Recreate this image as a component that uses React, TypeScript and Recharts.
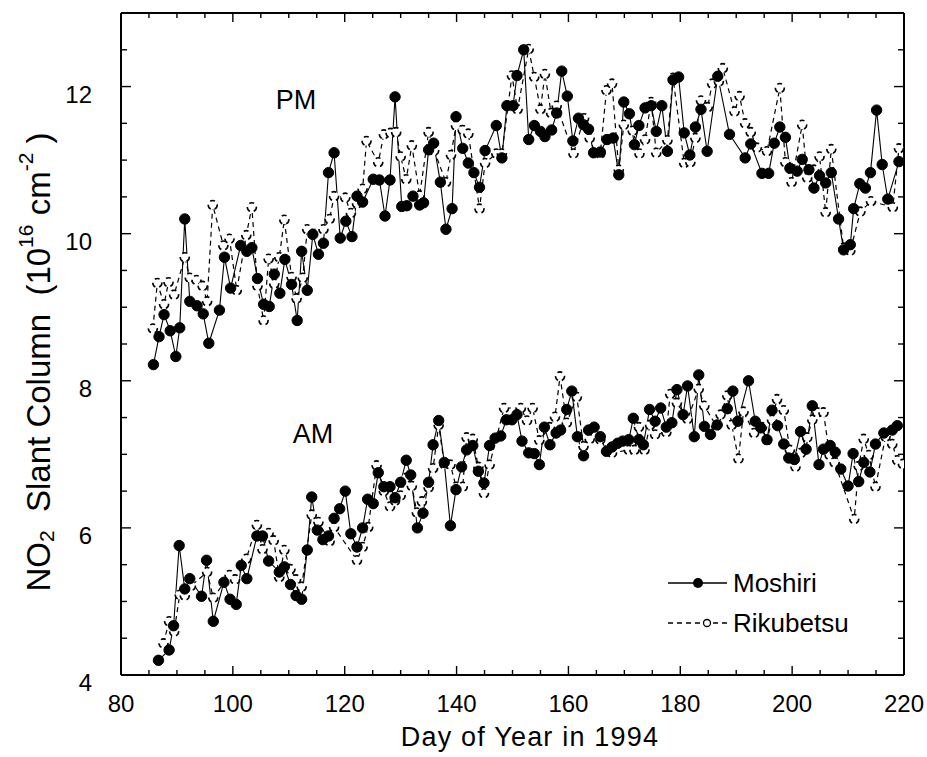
import React from 'react';
import { LineChart, Line, XAxis, YAxis, Legend } from 'recharts';

// PM, Moshiri (filled dots, solid line)
const pmMoshiriDay = [85.8, 86.8, 87.7, 88.8, 89.8, 90.5, 91.4, 92.3, 93.6, 94.7, 95.7, 97.6, 98.5, 99.6, 101.4, 102.5, 103.4, 104.4, 105.5, 106.5, 107.4, 108.4, 109.3, 110.5, 111.5, 112.3, 113.3, 114.3, 115.3, 116.2, 117.1, 118.1, 119.2, 120.2, 121.3, 122.2, 123.2, 125.1, 126.2, 127.2, 128.1, 129.0, 130.2, 131.1, 132.2, 133.4, 134.1, 135.0, 135.9, 137.1, 138.1, 139.2, 139.9, 141.1, 142.1, 143.1, 144.1, 145.1, 147.1, 148.1, 149.0, 150.1, 150.8, 152.0, 152.9, 153.9, 155.0, 155.8, 157.0, 157.9, 158.8, 159.8, 160.8, 161.8, 162.7, 163.6, 164.5, 165.7, 166.9, 168.0, 169.0, 169.9, 170.9, 171.8, 172.6, 173.7, 174.8, 175.7, 176.7, 177.7, 178.7, 179.7, 180.7, 181.7, 182.7, 183.7, 184.8, 186.7, 188.8, 191.6, 192.6, 194.6, 195.8, 196.8, 197.8, 198.8, 199.6, 200.9, 201.8, 203.0, 203.9, 204.9, 206.0, 207.0, 208.3, 209.2, 210.4, 211.0, 212.1, 213.1, 214.0, 215.1, 216.1, 217.1, 219.1];
const pmMoshiri = [8.22, 8.60, 8.90, 8.68, 8.33, 8.72, 10.20, 9.08, 9.02, 8.91, 8.51, 8.96, 9.68, 9.26, 9.84, 9.76, 9.81, 9.39, 9.04, 9.01, 9.45, 9.19, 9.65, 9.31, 8.82, 9.76, 9.23, 9.99, 9.72, 9.87, 10.83, 11.10, 9.94, 10.17, 9.96, 10.51, 10.43, 10.74, 10.73, 10.24, 10.73, 11.86, 10.37, 10.38, 10.51, 10.39, 10.42, 11.14, 11.23, 10.70, 10.06, 10.34, 11.59, 11.16, 10.96, 10.83, 10.63, 11.13, 11.47, 11.03, 11.74, 11.74, 12.15, 12.50, 11.28, 11.47, 11.39, 11.32, 11.41, 11.64, 12.21, 11.87, 11.26, 11.57, 11.48, 11.42, 11.10, 11.11, 11.28, 11.30, 10.80, 11.79, 11.63, 11.21, 11.47, 11.71, 11.74, 11.39, 11.74, 11.12, 12.09, 12.13, 11.37, 11.07, 11.45, 11.69, 11.12, 12.14, 11.35, 11.03, 11.22, 10.82, 10.82, 11.23, 11.45, 11.31, 10.89, 10.85, 11.01, 10.87, 10.62, 10.79, 10.69, 10.83, 10.20, 9.78, 9.85, 10.34, 10.68, 10.62, 10.83, 11.68, 10.94, 10.47, 10.98];

// PM, Rikubetsu (open dots, dashed line)
const pmRikubetsuDay = [85.7, 86.5, 87.7, 88.5, 89.5, 91.4, 92.3, 93.5, 94.6, 95.4, 96.4, 98.3, 99.4, 100.7, 102.4, 103.4, 104.4, 105.5, 106.4, 107.4, 108.3, 109.2, 110.5, 111.4, 112.5, 113.3, 116.2, 117.3, 118.1, 120.1, 121.1, 122.2, 123.2, 123.9, 126.0, 127.0, 128.2, 129.2, 130.0, 131.0, 132.0, 133.4, 135.0, 136.0, 138.1, 139.0, 139.9, 141.1, 142.1, 144.1, 145.1, 147.1, 148.1, 149.9, 150.9, 152.9, 153.9, 155.0, 155.8, 156.9, 157.9, 160.9, 162.8, 163.8, 164.8, 165.7, 166.8, 167.8, 169.0, 169.9, 171.5, 172.7, 173.7, 174.8, 175.7, 177.7, 178.7, 180.7, 181.8, 182.7, 183.7, 184.9, 185.7, 186.9, 187.6, 189.7, 190.6, 191.6, 192.6, 193.7, 195.5, 197.8, 198.8, 199.9, 201.8, 202.7, 203.9, 204.9, 206.0, 207.0, 209.2, 210.4, 212.2, 214.1, 218.0, 219.1];
const pmRikubetsu = [8.71, 9.33, 9.04, 9.34, 9.17, 9.68, 9.40, 9.37, 9.29, 9.08, 10.39, 9.84, 9.93, 9.23, 9.98, 10.36, 9.29, 8.82, 9.66, 9.32, 9.68, 10.19, 9.41, 9.12, 9.40, 10.06, 10.06, 10.20, 10.51, 10.49, 10.28, 10.41, 10.61, 11.26, 10.97, 11.35, 11.37, 11.38, 11.05, 10.74, 11.20, 10.52, 11.38, 11.13, 10.70, 11.07, 11.47, 11.41, 11.36, 10.34, 10.96, 11.09, 11.09, 12.15, 11.69, 12.51, 12.13, 11.69, 12.17, 11.64, 11.74, 11.09, 11.57, 11.30, 11.09, 11.09, 11.95, 12.04, 10.87, 11.48, 11.40, 11.09, 11.28, 11.79, 11.10, 11.27, 12.12, 10.96, 10.97, 11.30, 11.81, 11.72, 12.04, 12.07, 12.25, 11.66, 11.87, 11.50, 11.38, 11.17, 11.12, 11.98, 10.97, 10.70, 11.48, 10.76, 10.87, 11.05, 10.29, 11.15, 9.81, 9.77, 10.30, 10.44, 10.36, 11.16];

// AM, Moshiri
const amMoshiriDay = [86.7, 88.6, 89.4, 90.4, 91.4, 92.3, 94.4, 95.3, 96.5, 98.4, 99.5, 100.6, 101.5, 102.5, 104.3, 105.3, 106.4, 108.3, 109.2, 110.3, 111.3, 112.3, 113.3, 114.1, 115.1, 116.1, 117.1, 118.1, 119.1, 120.1, 121.1, 122.2, 123.2, 124.1, 125.1, 126.0, 127.0, 128.1, 129.0, 130.0, 131.0, 131.8, 133.0, 134.0, 135.0, 135.8, 136.8, 137.8, 138.9, 139.9, 140.9, 141.8, 142.9, 143.9, 144.9, 145.9, 146.9, 147.9, 148.9, 149.9, 150.8, 151.7, 152.9, 153.9, 154.8, 155.7, 156.7, 157.8, 158.6, 159.7, 160.6, 161.6, 162.7, 163.6, 164.6, 165.7, 166.8, 167.8, 168.8, 169.7, 170.8, 171.6, 172.6, 173.4, 174.5, 175.5, 176.5, 177.5, 178.5, 179.4, 180.5, 181.3, 182.5, 183.3, 184.3, 185.4, 186.6, 188.4, 189.4, 190.3, 192.2, 193.4, 194.4, 195.5, 196.4, 197.4, 198.5, 199.4, 200.4, 201.5, 202.5, 203.6, 204.8, 205.6, 206.8, 207.7, 208.7, 210.0, 210.9, 211.9, 212.8, 213.9, 214.9, 216.4, 217.9, 218.8];
const amMoshiri = [4.20, 4.34, 4.67, 5.76, 5.17, 5.31, 5.07, 5.56, 4.73, 5.26, 5.03, 4.96, 5.49, 5.31, 5.89, 5.89, 5.55, 5.40, 5.47, 5.23, 5.08, 5.03, 5.70, 6.42, 5.97, 5.84, 5.89, 6.13, 6.26, 6.50, 5.92, 5.74, 6.00, 6.39, 6.33, 6.75, 6.56, 6.56, 6.41, 6.62, 6.92, 6.72, 6.00, 6.20, 6.62, 7.13, 7.46, 6.89, 6.03, 6.52, 6.83, 7.06, 7.12, 6.77, 6.61, 7.12, 7.22, 7.25, 7.47, 7.47, 7.54, 7.18, 7.02, 7.01, 6.86, 7.37, 7.13, 7.29, 7.33, 7.61, 7.86, 7.24, 6.98, 7.33, 7.37, 7.24, 7.04, 7.10, 7.15, 7.18, 7.20, 7.49, 7.20, 7.13, 7.61, 7.45, 7.63, 7.37, 7.43, 7.88, 7.54, 7.93, 7.24, 8.08, 7.38, 7.27, 7.40, 7.62, 7.86, 7.45, 8.00, 7.45, 7.36, 7.20, 7.60, 7.39, 7.14, 6.95, 6.93, 7.31, 7.07, 7.66, 6.86, 7.07, 7.12, 7.03, 6.80, 6.57, 7.01, 6.63, 6.89, 6.76, 7.14, 7.29, 7.33, 7.39];

// AM, Rikubetsu
const amRikubetsuDay = [87.6, 88.6, 89.5, 90.5, 91.4, 92.5, 95.4, 96.5, 99.4, 100.4, 102.4, 104.3, 105.3, 106.4, 107.3, 108.3, 109.2, 110.3, 111.3, 112.3, 114.1, 115.3, 117.3, 118.1, 122.2, 123.2, 124.2, 125.7, 127.0, 128.1, 129.0, 130.0, 131.0, 132.0, 132.9, 133.8, 135.0, 135.8, 136.8, 137.8, 138.9, 139.9, 141.1, 141.8, 142.9, 143.9, 144.9, 145.9, 148.5, 151.5, 152.6, 153.6, 154.8, 156.7, 157.6, 158.5, 159.7, 161.5, 162.7, 163.8, 165.7, 167.8, 170.8, 171.8, 172.6, 173.6, 174.6, 175.5, 177.5, 178.2, 179.4, 181.3, 183.3, 184.3, 186.4, 187.2, 188.4, 189.2, 190.4, 191.3, 193.2, 194.6, 195.5, 196.4, 197.3, 198.5, 199.6, 200.6, 201.6, 202.7, 203.6, 204.5, 205.6, 206.7, 207.6, 211.1, 211.9, 212.8, 213.7, 214.9, 216.7, 217.9, 218.8, 219.8];
const amRikubetsu = [4.43, 4.73, 4.59, 5.09, 5.08, 5.21, 5.40, 5.05, 5.36, 5.30, 5.58, 6.04, 5.71, 5.93, 5.83, 5.33, 5.70, 5.44, 5.30, 5.20, 6.18, 6.08, 5.82, 6.01, 5.56, 5.74, 6.01, 6.85, 6.50, 6.29, 6.37, 6.44, 6.68, 6.57, 6.21, 6.36, 6.55, 6.81, 7.40, 6.87, 6.86, 6.56, 6.56, 7.23, 7.21, 6.83, 6.47, 6.86, 7.63, 7.63, 7.46, 7.63, 7.19, 7.37, 7.51, 8.06, 7.43, 7.78, 7.11, 7.21, 7.20, 7.02, 7.06, 7.06, 7.37, 7.06, 7.40, 7.27, 7.30, 7.82, 7.70, 7.48, 7.89, 7.66, 7.39, 7.54, 7.80, 7.40, 6.94, 7.58, 7.29, 7.37, 7.19, 7.47, 7.75, 7.60, 7.06, 6.83, 7.02, 7.23, 7.47, 7.57, 7.57, 6.99, 6.89, 6.12, 6.84, 7.21, 6.99, 6.56, 7.24, 7.14, 6.92, 6.87];

const xTicks = [80, 85, 90, 95, 100, 105, 110, 115, 120, 125, 130, 135, 140, 145, 150, 155, 160, 165, 170, 175, 180, 185, 190, 195, 200, 205, 210, 215, 220];
const xLabels = [80, 100, 120, 140, 160, 180, 200, 220];
const yTicks = [4, 4.5, 5, 5.5, 6, 6.5, 7, 7.5, 8, 8.5, 9, 9.5, 10, 10.5, 11, 11.5, 12, 12.5];
const yLabels = [4, 6, 8, 10, 12];

const FONT = "'Liberation Sans', Arial, Helvetica, sans-serif";
const W = 927;
const H = 757;

const zip = (days: number[], vals: number[]) => days.map((day, i) => ({ day, v: vals[i] }));

const pmM = zip(pmMoshiriDay, pmMoshiri);
const pmR = zip(pmRikubetsuDay, pmRikubetsu);
const amM = zip(amMoshiriDay, amMoshiri);
const amR = zip(amRikubetsuDay, amRikubetsu);

const BottomTick = (props: any) => {
  const { x, y, payload } = props;
  const major = xLabels.includes(payload.value);
  return (
    <g>
      <line x1={x} x2={x} y1={y} y2={y - (major ? 9 : 5)} stroke="#000" strokeWidth={1.4} />
      {major && (
        <text x={x} y={y + 37} textAnchor="middle" fontSize={24} fontFamily={FONT} fill="#000">
          {payload.value}
        </text>
      )}
    </g>
  );
};

const TopTick = (props: any) => {
  const { x, y, payload } = props;
  const major = xLabels.includes(payload.value);
  return <line x1={x} x2={x} y1={y} y2={y + (major ? 9 : 5)} stroke="#000" strokeWidth={1.4} />;
};

const LeftTick = (props: any) => {
  const { x, y, payload } = props;
  const major = yLabels.includes(payload.value);
  return (
    <g>
      <line x1={x} x2={x + (major ? 10 : 6)} y1={y} y2={y} stroke="#000" strokeWidth={1.4} />
      {major && (
        <text x={x - 29} y={y + 16} textAnchor="end" fontSize={24} fontFamily={FONT} fill="#000">
          {payload.value}
        </text>
      )}
    </g>
  );
};

const RightTick = (props: any) => {
  const { x, y, payload } = props;
  const major = yLabels.includes(payload.value);
  return <line x1={x} x2={x - (major ? 10 : 6)} y1={y} y2={y} stroke="#000" strokeWidth={1.4} />;
};

const XTitle = () => (
  <text x={530} y={746} textAnchor="middle" fontSize={27} letterSpacing={1.2} fontFamily={FONT} fill="#000">
    Day of Year in 1994
  </text>
);

const YTitle = () => (
  <text
    x={38}
    y={362}
    transform="rotate(-90, 38, 362)"
    textAnchor="middle"
    dominantBaseline="central"
    fontSize={33}
    fontFamily={FONT}
    fill="#000"
    style={{ whiteSpace: 'pre' }}
  >
    NO
    <tspan dy={8} fontSize={21}>2</tspan>
    <tspan dy={-8}>{'  Slant Column  (10'}</tspan>
    <tspan dy={-13} fontSize={21}>16</tspan>
    <tspan dy={13}>{' cm'}</tspan>
    <tspan dy={-13} fontSize={21}>-2</tspan>
    <tspan dy={13}>{' )'}</tspan>
  </text>
);

const legendItems = [
  { name: 'Moshiri', dashed: false },
  { name: 'Rikubetsu', dashed: true },
];

const renderLegend = () => (
  <svg width={260} height={100}>
    {legendItems.map((it, i) => {
      const cy = 35 + i * 40;
      return (
        <g key={it.name}>
          <line x1={20} x2={79} y1={cy} y2={cy} stroke="#000" strokeWidth={1.3} strokeDasharray={it.dashed ? '5 4' : undefined} />
          {it.dashed ? (
            <circle cx={59} cy={cy} r={3.5} fill="#fff" stroke="#000" strokeWidth={1.3} />
          ) : (
            <circle cx={50} cy={cy} r={5} fill="#000" />
          )}
          <text x={85} y={cy + 9} fontSize={26} fontFamily={FONT} fill="#000">
            {it.name}
          </text>
        </g>
      );
    })}
  </svg>
);

const openDot = { r: 4.5, fill: '#fff', stroke: '#000', strokeWidth: 1.6 };
const filledDot = { r: 5.2, fill: '#000', stroke: '#000', strokeWidth: 1 };

const tagStyle: React.CSSProperties = {
  position: 'absolute',
  transform: 'translate(-50%, -50%)',
  fontFamily: FONT,
  fontSize: 27,
  lineHeight: 1,
  color: '#000',
  pointerEvents: 'none',
};

export default function App() {
  return (
    <div style={{ position: 'absolute', left: 0, top: 0, width: W, height: H, background: '#fff', overflow: 'hidden' }}>
      <LineChart width={W} height={H} margin={{ top: 12, right: 22, bottom: 22, left: 41 }}>
        <XAxis
          xAxisId="x"
          type="number"
          dataKey="day"
          domain={[80, 220]}
          allowDataOverflow
          ticks={xTicks}
          interval={0}
          height={60}
          tickSize={0}
          tickMargin={0}
          tickLine={false}
          axisLine={{ stroke: '#000', strokeWidth: 2 }}
          tick={BottomTick}
          label={<XTitle />}
        />
        <XAxis
          xAxisId="top"
          orientation="top"
          type="number"
          dataKey="day"
          domain={[80, 220]}
          allowDataOverflow
          ticks={xTicks}
          interval={0}
          height={1}
          tickSize={0}
          tickMargin={0}
          tickLine={false}
          axisLine={{ stroke: '#000', strokeWidth: 2 }}
          tick={TopTick}
        />
        <YAxis
          yAxisId="y"
          type="number"
          domain={[4, 13]}
          allowDataOverflow
          ticks={yTicks}
          interval={0}
          width={80}
          tickSize={0}
          tickMargin={0}
          tickLine={false}
          axisLine={{ stroke: '#000', strokeWidth: 2 }}
          tick={LeftTick}
          label={<YTitle />}
        />
        <YAxis
          yAxisId="right"
          orientation="right"
          type="number"
          domain={[4, 13]}
          allowDataOverflow
          ticks={yTicks}
          interval={0}
          width={1}
          tickSize={0}
          tickMargin={0}
          tickLine={false}
          axisLine={{ stroke: '#000', strokeWidth: 2 }}
          tick={RightTick}
        />
        <Legend
          layout="vertical"
          align="center"
          verticalAlign="middle"
          content={renderLegend}
          wrapperStyle={{ left: 648, top: 548, width: 260, height: 100 }}
        />
        <Line xAxisId="x" yAxisId="y" data={pmR} dataKey="v" name="Rikubetsu" stroke="#000" strokeWidth={1.2} strokeDasharray="5 4" dot={openDot} activeDot={false} isAnimationActive={false} />
        <Line xAxisId="x" yAxisId="y" data={amR} dataKey="v" name="Rikubetsu" stroke="#000" strokeWidth={1.2} strokeDasharray="5 4" dot={openDot} activeDot={false} isAnimationActive={false} legendType="none" />
        <Line xAxisId="x" yAxisId="y" data={pmM} dataKey="v" name="Moshiri" stroke="#000" strokeWidth={1.1} dot={filledDot} activeDot={false} isAnimationActive={false} />
        <Line xAxisId="x" yAxisId="y" data={amM} dataKey="v" name="Moshiri" stroke="#000" strokeWidth={1.1} dot={filledDot} activeDot={false} isAnimationActive={false} legendType="none" />
      </LineChart>
      <div style={{ ...tagStyle, left: 296, top: 100 }}>PM</div>
      <div style={{ ...tagStyle, left: 313, top: 434 }}>AM</div>
    </div>
  );
}
